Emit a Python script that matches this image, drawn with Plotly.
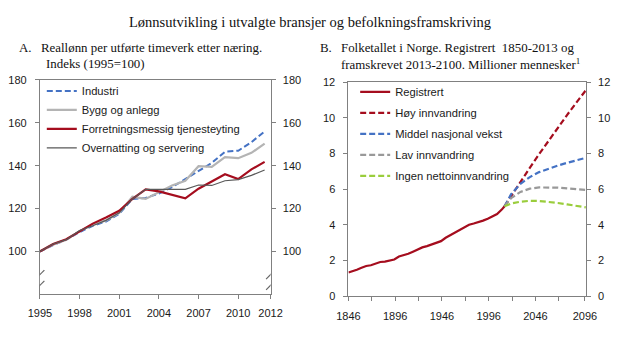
import plotly.graph_objects as go

# ---------------- Data: panel A ----------------
years_a = list(range(1995, 2013))
industri = [100, 103, 105.5, 109, 112, 114, 117.5, 124.5, 125, 127, 130, 133.8, 137.5, 141.3, 146.5, 147, 151, 156]
bygg = [100, 103.2, 105.5, 109.5, 112.5, 114.5, 118, 125.5, 124.5, 127.5, 130.8, 133, 139.8, 139.5, 144, 143.5, 146, 150.3]
forretning = [100, 103.5, 105.7, 109.5, 113, 115.8, 119, 124.5, 129, 128, 126.5, 124.8, 129.3, 132.6, 136, 133.8, 138.3, 141.8]
overnatting = [100, 103.5, 105.5, 109.8, 112, 114.5, 118, 124.5, 129, 129, 129, 129, 131, 130.8, 133, 133.5, 135.5, 138]
xrange_a = [1995, 2012.45]
ticks_a = [1995, 1998, 2001, 2004, 2007, 2010, 2012.45]
ticklabels_a = ["1995", "1998", "2001", "2004", "2007", "2010", "2012"]
yticks_a = [100, 120, 140, 160, 180]

# ---------------- Data: panel B ----------------
years_reg = [1846, 1850, 1855, 1860, 1865, 1870, 1875, 1880, 1885, 1890, 1895, 1900, 1905, 1910,
             1915, 1920, 1925, 1930, 1935, 1940, 1945, 1950, 1955, 1960, 1965, 1970, 1975, 1980,
             1985, 1990, 1995, 2000, 2005, 2010, 2013]
registrert = [1.33, 1.39, 1.49, 1.60, 1.70, 1.74, 1.81, 1.92, 1.94, 2.00, 2.06, 2.23, 2.30, 2.38,
              2.50, 2.64, 2.74, 2.81, 2.89, 2.97, 3.09, 3.28, 3.43, 3.58, 3.72, 3.87, 4.01, 4.08,
              4.15, 4.24, 4.35, 4.48, 4.61, 4.86, 5.05]
years_proj = [2013, 2020, 2030, 2040, 2050, 2060, 2070, 2080, 2090, 2100]
hoy = [5.05, 5.62, 6.42, 7.2, 7.97, 8.72, 9.45, 10.17, 10.87, 11.55]
middel = [5.05, 5.72, 6.3, 6.68, 6.96, 7.16, 7.33, 7.48, 7.62, 7.76]
lav = [5.05, 5.5, 5.85, 6.03, 6.1, 6.11, 6.09, 6.05, 6.0, 5.96]
ingen = [5.05, 5.2, 5.3, 5.35, 5.34, 5.3, 5.23, 5.15, 5.07, 4.98]
ticks_b = [1846, 1896, 1946, 1996, 2046, 2099]
ticklabels_b = ["1846", "1896", "1946", "1996", "2046", "2096"]
minor_ticks_b = [1871, 1921, 1971, 2021, 2071]
yticks_b = [0, 2, 4, 6, 8, 10, 12]

W, H = 620, 337
RED = "#a50d1e"
BLUE = "#4472c4"
LGREY = "#b4b4b4"
DGREY = "#595959"
MGREY = "#999999"
GREEN = "#9acd3c"
AX = "#808080"
SANS = "Liberation Sans, Arial, sans-serif"
SERIF = "Liberation Serif, Times New Roman, serif"
DASH = "6px,3px"

fig = go.Figure()

# Panel A traces
fig.add_trace(go.Scatter(x=years_a, y=industri, name="Industri", mode="lines",
                         line=dict(color=BLUE, width=2, dash=DASH), xaxis="x", yaxis="y", legend="legend"))
fig.add_trace(go.Scatter(x=years_a, y=bygg, name="Bygg og anlegg", mode="lines",
                         line=dict(color=LGREY, width=2.2), xaxis="x", yaxis="y", legend="legend"))
fig.add_trace(go.Scatter(x=years_a, y=forretning, name="Forretningsmessig tjenesteyting", mode="lines",
                         line=dict(color=RED, width=2.2), xaxis="x", yaxis="y", legend="legend"))
fig.add_trace(go.Scatter(x=years_a, y=overnatting, name="Overnatting og servering", mode="lines",
                         line=dict(color=DGREY, width=1.2), xaxis="x", yaxis="y", legend="legend"))

# Panel B traces
b_series = [
    ("Registrert", years_reg, registrert, RED, "solid"),
    ("Høy innvandring", years_proj, hoy, RED, DASH),
    ("Middel nasjonal vekst", years_proj, middel, BLUE, DASH),
    ("Lav innvandring", years_proj, lav, MGREY, DASH),
    ("Ingen nettoinnvandring", years_proj, ingen, GREEN, DASH),
]
for i, (nm, xs, ys, col, dsh) in enumerate(b_series):
    fig.add_trace(go.Scatter(x=xs, y=ys, name=nm, mode="lines", line=dict(color=col, width=2.2, dash=dsh),
                             xaxis="x2", yaxis="y3", legend="legend2", legendgroup="g%d" % i))


def px_x(p):
    return p / W


def px_y(p):
    return 1 - p / H


ax_common = dict(showline=True, linecolor=AX, linewidth=1, ticks="outside", tickcolor=AX,
                 ticklen=4, showgrid=False, zeroline=False,
                 tickfont=dict(family=SANS, size=11, color="#1a1a1a"))

fig.update_layout(
    width=W, height=H, margin=dict(l=0, r=0, t=0, b=0),
    paper_bgcolor="white", plot_bgcolor="white",
    xaxis=dict(domain=[px_x(29), px_x(269)], range=xrange_a, tickvals=ticks_a, ticktext=ticklabels_a,
               mirror=True, anchor="y", ticklabelstandoff=4, **ax_common),
    yaxis=dict(domain=[px_y(299), px_y(76.7)], range=[80, 180], tickvals=yticks_a, anchor="x",
               ticklabelstandoff=6, **ax_common),
    yaxis2=dict(range=[80, 180], tickvals=yticks_a, overlaying="y", side="right", anchor="x",
                ticklabelstandoff=5, **ax_common),
    xaxis2=dict(domain=[px_x(350), px_x(597)], range=[1846, 2100], tickvals=ticks_b,
                ticktext=ticklabels_b, mirror=True, anchor="y3", ticklabelstandoff=6,
                minor=dict(tickvals=minor_ticks_b, ticks="outside", ticklen=4, tickcolor=AX, showgrid=False),
                **ax_common),
    yaxis3=dict(domain=[px_y(301), px_y(79)], range=[0, 12], tickvals=yticks_b, anchor="x2",
                ticklabelstandoff=6, **ax_common),
    yaxis4=dict(range=[0, 12], tickvals=yticks_b, overlaying="y3", side="right", anchor="x2",
                ticklabelstandoff=5, **ax_common),
    showlegend=True,
    legend=dict(x=px_x(31), y=px_y(73), xanchor="left", yanchor="top", bgcolor="rgba(0,0,0,0)",
                font=dict(family=SANS, size=11.2, color="#1a1a1a")),
    legend2=dict(x=px_x(357), y=px_y(74), xanchor="left", yanchor="top", bgcolor="rgba(0,0,0,0)",
                 font=dict(family=SANS, size=11.2, color="#1a1a1a"), tracegroupgap=2,
                 traceorder="grouped"),
)

# make overlaying right axes render
fig.add_trace(go.Scatter(x=[years_a[0]], y=[industri[0]], xaxis="x", yaxis="y2", showlegend=False,
                         mode="markers", marker=dict(opacity=0), hoverinfo="skip"))
fig.add_trace(go.Scatter(x=[years_reg[0]], y=[registrert[0]], xaxis="x2", yaxis="y4", showlegend=False,
                         mode="markers", marker=dict(opacity=0), hoverinfo="skip"))

# Axis break marks on panel A (both sides)
shapes = []
for xa in (xrange_a[0], xrange_a[1]):
    shapes.append(dict(type="rect", xref="x", yref="y", xsizemode="pixel", ysizemode="pixel",
                       xanchor=xa, x0=-3, x1=3, yanchor=86.7, y0=-4.5, y1=4.5,
                       fillcolor="white", line=dict(width=0)))
    for yc in (89.2, 84.2):
        shapes.append(dict(type="line", xref="x", yref="y", xsizemode="pixel", ysizemode="pixel",
                           xanchor=xa, x0=-4.5, x1=4.5, yanchor=yc, y0=-4.5, y1=4.5,
                           line=dict(color="#666", width=1.2)))
fig.update_layout(shapes=shapes)

ann = []
ann.append(dict(text="Lønnsutvikling i utvalgte bransjer og befolkningsframskriving", x=0.5, y=px_y(17),
                xref="paper", yref="paper", xanchor="center", yanchor="middle", showarrow=False,
                font=dict(family=SERIF, size=14.5, color="#111")))
sub = [("A.", 5, 44), ("Reallønn per utførte timeverk etter næring.", 28, 44), ("Indeks (1995=100)", 33, 60),
       ("B.", 318, 44), ("Folketallet i Norge. Registrert  1850-2013 og", 340, 44),
       ("framskrevet 2013-2100. Millioner mennesker<sup>1</sup>", 340, 60)]
for t, xx, yy in sub:
    ann.append(dict(text=t, x=px_x(xx), y=px_y(yy), xref="paper", yref="paper", xanchor="left",
                    yanchor="middle", showarrow=False, font=dict(family=SERIF, size=12.9, color="#111")))
fig.update_layout(annotations=ann)

fig.write_html("out.html")
